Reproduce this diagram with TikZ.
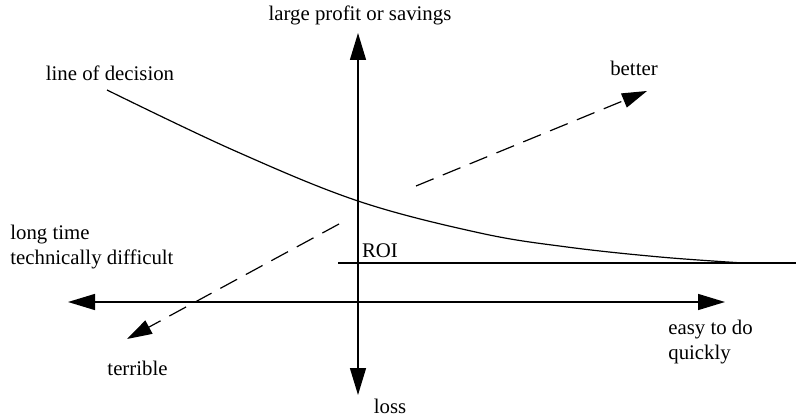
\documentclass[tikz,border=0pt]{standalone}
\usepackage{fontspec}
\setmainfont{Liberation Serif}
\usepackage{tikz}
\usetikzlibrary{arrows.meta, positioning}

\begin{document}
\begin{tikzpicture}[
  x=0.5pt,y=-0.5pt,
  font=\fontsize{10.4}{12.5}\selectfont,
  axis/.style={{Triangle[length=13.5pt,width=8pt]}-{Triangle[length=13.5pt,width=8pt]},line width=0.7pt},
  dir/.style={-{Triangle[length=12.5pt,width=7.5pt]},line width=0.6pt,dash pattern=on 9.5pt off 5pt},
  curve/.style={line width=0.6pt},
  lbl/.style={inner sep=0pt}
]
  \useasboundingbox (0,0) rectangle (796,416);

  \coordinate (up) at (358,33);
  \coordinate (down) at (358,395);
  \coordinate (left) at (68,302);
  \coordinate (right) at (725,302);
  \coordinate (roistart) at (338,263);
  \coordinate (roiend) at (796,263);
  \coordinate (badstart) at (339,224);
  \coordinate (badend) at (127,339);
  \coordinate (goodstart) at (416,186);
  \coordinate (goodend) at (647,91);

  \node[lbl] (profit) at (360,15) {large profit or savings};
  \node[lbl] (loss) at (390,406) {loss};
  \node[lbl] (decision) at (110,73) {line of decision};
  \node[lbl] (better) at (634,68) {better};
  \node[lbl] (terrible) at (137.5,368) {terrible};
  \node[lbl,anchor=west,align=left] (hard) at (10,247) {long time\\technically difficult};
  \node[lbl,anchor=west,align=left] (easy) at (668,342) {easy to do\\quickly};
  \node[lbl] (roi) at (380,251) {ROI};

  \draw[axis] (down)--(up);
  \draw[axis] (left)--(right);
  \draw[curve] (roistart)--(roiend);
  \draw[curve] plot[smooth,tension=0.6] coordinates {(107,90) (233,150) (358,201) (480,233) (567,247) (660,257) (743,263)};
  \draw[dir] (badstart)--(badend);
  \draw[dir] (goodstart)--(goodend);
\end{tikzpicture}
\end{document}
